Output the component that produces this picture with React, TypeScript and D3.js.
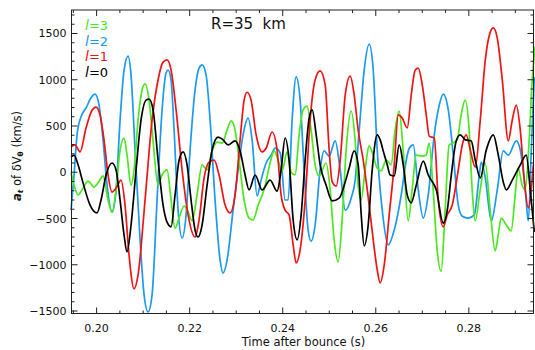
import React from "react";
import * as d3 from "d3";

type Pt = [number, number];

// l = 0 (black)
const l0Data: Pt[] = [
  [0.1945,165],[0.19515,185],[0.19601,80],[0.19708,-115],[0.19859,-355],[0.20009,-440],[0.20095,-300],[0.20203,-30],[0.20332,100],[0.20418,25],[0.20504,-300],[0.2059,-680],[0.20654,-860],[0.2074,-570],[0.20848,25],[0.20955,565],[0.21063,780],[0.21127,790],[0.21213,675],[0.21321,130],[0.21428,-355],[0.21514,-540],[0.216,-590],[0.21686,-245],[0.21772,130],[0.21858,220],[0.21944,80],[0.2203,-300],[0.22116,-625],[0.22181,-700],[0.22267,-570],[0.22374,-140],[0.22482,240],[0.22611,380],[0.22718,350],[0.22826,295],[0.22976,340],[0.23084,230],[0.23191,-30],[0.23277,-190],[0.23406,-30],[0.23557,-190],[0.23729,-85],[0.23879,-205],[0.23965,25],[0.24051,370],[0.24137,130],[0.24224,-515],[0.2431,-730],[0.24396,-460],[0.24482,130],[0.24568,585],[0.24633,675],[0.24719,405],[0.24804,80],[0.24933,-140],[0.25063,-310],[0.25213,-280],[0.25343,-105],[0.25428,45],[0.25536,230],[0.25622,80],[0.25687,-460],[0.25751,-795],[0.25837,-570],[0.25923,25],[0.26031,405],[0.26095,350],[0.2616,230],[0.26246,80],[0.26311,-30],[0.26397,-40],[0.26504,295],[0.2659,80],[0.26676,-245],[0.26762,-330],[0.2687,-140],[0.27021,120],[0.27128,-30],[0.273,-190],[0.27451,-550],[0.27537,-410],[0.27623,-30],[0.2773,340],[0.27816,405],[0.27923,350],[0.2805,340],[0.28139,130],[0.28246,-60],[0.28375,240],[0.28526,405],[0.28633,185],[0.2874,-105],[0.28805,-190],[0.28934,-85],[0.29106,80],[0.29234,185],[0.2932,-190],[0.29407,-645],
];

// l = 1 (red)
const l1Data: Pt[] = [
  [0.1945,275],[0.19536,295],[0.19644,220],[0.19773,480],[0.19901,670],[0.19987,705],[0.20073,620],[0.20159,350],[0.20246,-30],[0.20332,-215],[0.20418,-170],[0.20525,-85],[0.20611,-355],[0.20697,-895],[0.20805,-1260],[0.20891,-1110],[0.21041,-300],[0.21192,565],[0.21321,1000],[0.21428,1190],[0.21514,1215],[0.216,1105],[0.21708,675],[0.21837,25],[0.21966,-460],[0.22116,-700],[0.22202,-515],[0.2231,-60],[0.22417,110],[0.22525,130],[0.22632,-30],[0.22761,-355],[0.22869,-440],[0.22976,-245],[0.23084,350],[0.2317,780],[0.23234,865],[0.2332,780],[0.23428,405],[0.23557,220],[0.23643,260],[0.23772,435],[0.23879,240],[0.23965,-245],[0.24051,-410],[0.24137,-460],[0.24224,-785],[0.24288,-980],[0.24374,-840],[0.24482,-300],[0.24589,565],[0.24697,1000],[0.24804,1095],[0.24912,945],[0.24998,240],[0.25063,-105],[0.25149,-150],[0.25235,130],[0.25343,835],[0.2545,1040],[0.25536,835],[0.25622,455],[0.2573,130],[0.25837,-270],[0.25945,-730],[0.26031,-1055],[0.26095,-1195],[0.26181,-1005],[0.26289,-460],[0.26397,80],[0.26483,620],[0.26569,585],[0.26676,480],[0.26762,835],[0.26848,1105],[0.26913,1125],[0.26999,945],[0.27085,620],[0.27149,390],[0.27257,370],[0.27343,-300],[0.27451,-590],[0.27537,-460],[0.27644,-355],[0.27773,25],[0.27859,295],[0.27945,405],[0.28031,240],[0.28139,55],[0.28246,565],[0.28354,1215],[0.28461,1515],[0.28526,1560],[0.28611,1450],[0.28719,1000],[0.28848,340],[0.28934,565],[0.2902,725],[0.29106,455],[0.29192,-85],[0.29278,-385],[0.29386,80],
];

// l = 2 (blue)
const l2Data: Pt[] = [
  [0.1945,-410],[0.19515,-30],[0.19579,405],[0.19665,600],[0.19773,695],[0.1988,805],[0.19966,845],[0.20052,725],[0.20138,350],[0.20224,-140],[0.20332,-430],[0.20418,-190],[0.20504,565],[0.2059,1105],[0.20676,1255],[0.2074,1050],[0.20826,240],[0.20934,-730],[0.2102,-1325],[0.21106,-1510],[0.21192,-1325],[0.21299,-300],[0.21407,675],[0.21493,1075],[0.21536,1105],[0.216,995],[0.21665,455],[0.21751,-410],[0.21837,-710],[0.21923,-460],[0.22009,240],[0.22116,890],[0.22202,1125],[0.22267,1160],[0.22353,1050],[0.22439,565],[0.22546,-300],[0.22654,-950],[0.22718,-1090],[0.22804,-950],[0.22933,-410],[0.23041,25],[0.23148,405],[0.23256,585],[0.23342,350],[0.23449,-255],[0.23535,-85],[0.23643,100],[0.2375,185],[0.23836,260],[0.23944,210],[0.24051,-300],[0.24116,-300],[0.24202,565],[0.24288,1030],[0.24374,780],[0.2446,25],[0.24546,-625],[0.24611,-745],[0.24697,-570],[0.24804,25],[0.2489,230],[0.24998,175],[0.25127,340],[0.25235,25],[0.25343,-410],[0.25471,-280],[0.25557,-85],[0.25644,455],[0.25751,1105],[0.25859,1385],[0.25945,1105],[0.26031,240],[0.26139,-410],[0.26268,-785],[0.26397,-625],[0.26547,-245],[0.26655,130],[0.2672,260],[0.26806,295],[0.26913,-190],[0.27021,-495],[0.27128,-245],[0.27257,405],[0.27364,725],[0.27451,845],[0.27558,675],[0.27666,185],[0.27773,-355],[0.27859,-475],[0.27988,-495],[0.28117,-460],[0.28225,-30],[0.28268,110],[0.28354,-60],[0.28483,-525],[0.28611,-190],[0.2874,230],[0.28848,185],[0.2902,340],[0.29106,240],[0.29213,-190],[0.29278,-525],[0.29343,240],[0.29407,1030],
];

// l = 3 (green)
const l3Data: Pt[] = [
  [0.1945,0],[0.19515,-140],[0.19601,-245],[0.19708,-170],[0.19816,-95],[0.19945,-160],[0.20031,-115],[0.20138,-40],[0.20246,-300],[0.20332,-430],[0.20418,-190],[0.20504,240],[0.2059,370],[0.20654,185],[0.2074,-140],[0.20805,25],[0.20891,565],[0.20977,890],[0.21041,955],[0.21127,780],[0.21213,340],[0.21321,-140],[0.21407,-30],[0.21514,25],[0.216,-300],[0.21686,-605],[0.21772,-495],[0.2188,-365],[0.21966,-430],[0.22052,-525],[0.22159,-245],[0.22267,80],[0.22374,25],[0.22482,230],[0.22589,325],[0.22697,315],[0.22804,455],[0.2289,555],[0.22976,455],[0.23062,130],[0.2317,-300],[0.23277,-495],[0.23363,-515],[0.23471,-355],[0.236,-190],[0.23729,100],[0.23815,230],[0.23901,130],[0.23987,15],[0.24094,220],[0.2418,0],[0.24266,-30],[0.24352,405],[0.24438,675],[0.24524,715],[0.2461,455],[0.24696,80],[0.24782,-40],[0.24933,100],[0.25019,-190],[0.25105,-730],[0.25191,-970],[0.25277,-515],[0.25363,240],[0.2547,660],[0.25556,350],[0.25621,-140],[0.25685,-300],[0.25771,25],[0.25857,285],[0.25943,185],[0.26029,45],[0.26115,15],[0.26223,130],[0.2633,80],[0.26416,455],[0.26502,660],[0.26588,240],[0.26696,-525],[0.26782,-190],[0.26868,185],[0.26997,175],[0.27083,185],[0.27147,315],[0.27233,-190],[0.27319,-840],[0.27405,-1070],[0.27491,-410],[0.27577,295],[0.27663,315],[0.27749,350],[0.27835,620],[0.27921,780],[0.28007,455],[0.28072,-190],[0.28136,-525],[0.28244,-190],[0.28351,100],[0.28459,-410],[0.28566,-850],[0.2863,-680],[0.28695,-495],[0.28803,-570],[0.2891,-635],[0.28996,-245],[0.29061,45],[0.29147,-140],[0.29211,-190],[0.29297,350],[0.29362,1000],[0.29426,1365],
];

const xMajorTicks = [0.2, 0.22, 0.24, 0.26, 0.28];
const xTickLabels = ["0.20", "0.22", "0.24", "0.26", "0.28"];
const yMajorTicks = [-1500, -1000, -500, 0, 500, 1000, 1500];
const yTickLabels = ["\u22121500", "\u22121000", "\u2212500", "0", "500", "1000", "1500"];

const legendLabels = ["3", "2", "1", "0"];

const COLORS = { l0: "#000000", l1: "#f21212", l2: "#1a9af2", l3: "#4ae81e" };

const W = 535;
const H = 350;
const L = 71.5, R = 533.5, T = 10, B = 313.5;

export default function App() {
  const x = d3.scaleLinear().domain([0.1946, 0.2939]).range([L, R]);
  const y = d3.scaleLinear().domain([-1527, 1754]).range([B, T]);
  const line = d3
    .line<Pt>()
    .x((d) => x(d[0]))
    .y((d) => y(d[1]))
    .curve(d3.curveMonotoneX);

  const xMinor = d3.range(0.195, 0.2936, 0.005);
  const yMinor = d3.range(-1500, 1751, 100);
  const font = "'DejaVu Sans', sans-serif";
  const axisColor = "#222";

  const series: { data: Pt[]; color: string }[] = [
    { data: l2Data, color: COLORS.l2 },
    { data: l3Data, color: COLORS.l3 },
    { data: l1Data, color: COLORS.l1 },
    { data: l0Data, color: COLORS.l0 },
  ];
  const legendColors = [COLORS.l3, COLORS.l2, COLORS.l1, COLORS.l0];

  return (
    <svg
      width={W}
      height={H}
      style={{ position: "absolute", left: 0, top: 0, background: "#fff" }}
      fontFamily={font}
    >
      <rect x={0} y={0} width={W} height={H} fill="#fff" />
      {series.map((s, i) => (
        <path key={i} d={line(s.data) || ""} fill="none" stroke={s.color} strokeWidth={1.7} strokeLinejoin="round" />
      ))}

      {/* frame */}
      <rect x={L} y={T} width={R - L} height={B - T} fill="none" stroke={axisColor} strokeWidth={1} />

      {/* x ticks */}
      {xMinor.map((t, i) => {
        const px = x(t);
        const major = xMajorTicks.some((m) => Math.abs(m - t) < 1e-6);
        const len = major ? 6 : 3;
        return (
          <g key={"xm" + i} stroke={axisColor} strokeWidth={1}>
            <line x1={px} x2={px} y1={B} y2={B - len} />
            <line x1={px} x2={px} y1={T} y2={T + len} />
          </g>
        );
      })}
      {xMajorTicks.map((t, i) => (
        <text key={"xl" + i} x={x(t)} y={332} fontSize={11} textAnchor="middle" fill="#111">
          {xTickLabels[i]}
        </text>
      ))}
      <text x={(L + R) / 2 + 1} y={346} fontSize={11.5} textAnchor="middle" fill="#111">
        Time after bounce (s)
      </text>

      {/* y ticks */}
      {yMinor.map((v, i) => {
        const py = y(v);
        const major = yMajorTicks.includes(v);
        const len = major ? 6 : 3;
        return (
          <g key={"ym" + i} stroke={axisColor} strokeWidth={1}>
            <line x1={L} x2={L + len} y1={py} y2={py} />
            <line x1={R} x2={R - len} y1={py} y2={py} />
          </g>
        );
      })}
      {yMajorTicks.map((v, i) => (
        <text key={"yl" + i} x={66.5} y={y(v) + 4} fontSize={11} textAnchor="end" fill="#111">
          {yTickLabels[i]}
        </text>
      ))}

      {/* y title */}
      <text transform="translate(21,156) rotate(-90)" fontSize={11.5} textAnchor="middle" fill="#111">
        <tspan fontWeight="bold" fontStyle="italic">a</tspan>
        <tspan fontSize={7.5} fontWeight="bold" fontStyle="italic" dy={2}>t</tspan>
        <tspan dy={-2}> of δV</tspan>
        <tspan fontSize={7.5} fontWeight="bold" dy={2}>θ</tspan>
        <tspan dy={-2}> (km/s)</tspan>
      </text>

      {/* legend */}
      {legendLabels.map((lab, i) => (
        <text key={"lg" + i} x={85} y={30 + i * 15.5} fontSize={13} fill={legendColors[i]}>
          <tspan fontStyle="italic" fontSize={14}>l</tspan>={lab}
        </text>
      ))}

      <text x={211} y={29} fontSize={15} fill="#111" style={{ whiteSpace: "pre" }}>
        {"R=35  km"}
      </text>
    </svg>
  );
}
